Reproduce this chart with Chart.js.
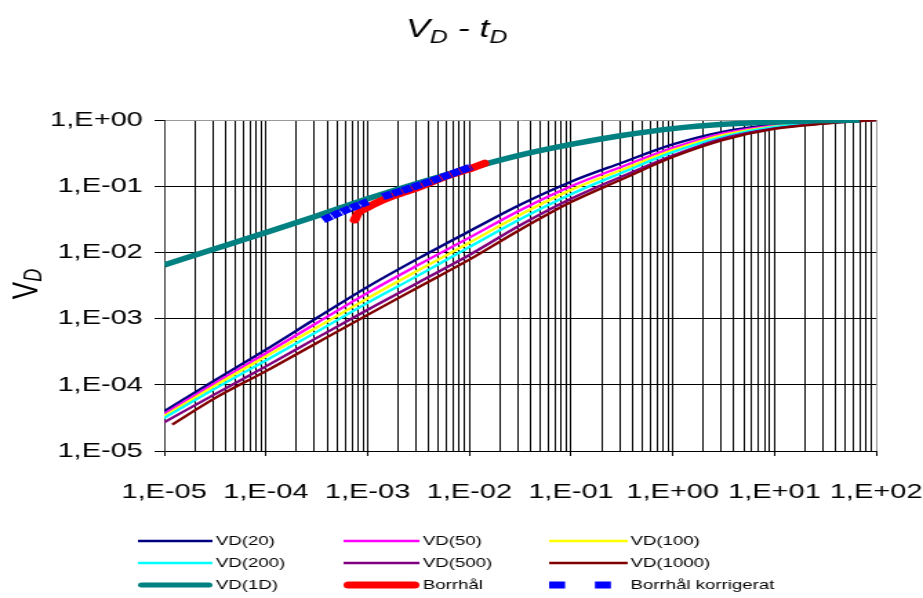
<!DOCTYPE html>
<html>
<head>
<meta charset="utf-8">
<script src="https://cdn.jsdelivr.net/npm/chart.js@4.4.1/dist/chart.umd.min.js"></script>
<style>
  html, body { margin: 0; padding: 0; background: #fff; overflow: hidden; }
</style>
</head>
<body>
<canvas id="c" width="669" height="598" style="display:block;width:923px;height:598px"></canvas>
<script>
// Dimensionless time t_D for the VD(n) family
const tD = [1e-5, 3.16e-5, 1e-4, 3.16e-4, 1e-3, 3.16e-3, 1e-2, 3.16e-2, 0.1, 0.316, 1, 3.16, 10, 31.6, 100];
const vd20  = [3.98e-5, 1.17e-4, 3.39e-4, 1.02e-3, 3.02e-3, 8.13e-3, 0.0209, 0.0525, 0.117, 0.226, 0.427, 0.668, 0.851, 0.944, 1.0];
const vd50  = [3.62e-5, 1.06e-4, 3.00e-4, 8.59e-4, 2.45e-3, 6.49e-3, 0.0167, 0.0434, 0.100, 0.197, 0.380, 0.630, 0.822, 0.931, 1.0];
const vd100 = [3.38e-5, 9.70e-5, 2.69e-4, 7.35e-4, 2.02e-3, 5.36e-3, 0.0140, 0.0371, 0.0880, 0.177, 0.350, 0.596, 0.802, 0.920, 1.0];
const vd200 = [3.15e-5, 8.75e-5, 2.33e-4, 6.30e-4, 1.73e-3, 4.50e-3, 0.0120, 0.0317, 0.0756, 0.160, 0.327, 0.561, 0.785, 0.912, 1.0];
const vd500 = [2.72e-5, 7.23e-5, 1.90e-4, 5.11e-4, 1.36e-3, 3.52e-3, 9.15e-3, 0.0257, 0.0645, 0.140, 0.291, 0.530, 0.748, 0.895, 1.0];
// VD(1000) starts slightly later
const tD1000 = [1.2e-5, 3.16e-5, 1e-4, 3.16e-4, 1e-3, 3.16e-3, 1e-2, 3.16e-2, 0.1, 0.316, 1, 3.16, 10, 31.6, 100];
const vd1000 = [2.50e-5, 6.28e-5, 1.61e-4, 4.29e-4, 1.14e-3, 2.98e-3, 7.77e-3, 0.0220, 0.0575, 0.127, 0.276, 0.501, 0.733, 0.881, 1.0];
// One-dimensional solution
const tD1D = [1e-5, 3.16e-5, 1e-4, 3.16e-4, 1e-3, 3.16e-3, 1e-2, 3.16e-2, 0.1, 0.316, 1, 3.16, 10, 31.6, 69];
const vd1D = [0.00646, 0.01135, 0.0200, 0.0355, 0.0646, 0.112, 0.186, 0.295, 0.427, 0.582, 0.741, 0.861, 0.933, 0.982, 1.0];
// Borehole measurement
const tBorr = [7.46e-4, 8.05e-4, 9.77e-4, 1.41e-3, 2.09e-3, 3.02e-3, 4.37e-3, 6.46e-3, 9.33e-3, 1.41e-2];
const vBorr = [0.0309, 0.0389, 0.0468, 0.0617, 0.0776, 0.0933, 0.1175, 0.148, 0.176, 0.222];
// Corrected borehole measurement (null = break in the line)
const tKorr = [3.65e-4, 6.17e-4, 1.01e-3, 1.2e-3, 1.41e-3, 3.80e-3, 1.05e-2];
const vKorr = [0.0309, 0.0437, 0.0583, null, 0.0693, 0.113, 0.197];

const xTickLabels = ['1,E-05', '1,E-04', '1,E-03', '1,E-02', '1,E-01', '1,E+00', '1,E+01', '1,E+02'];
const yTickLabels = ['1,E-05', '1,E-04', '1,E-03', '1,E-02', '1,E-01', '1,E+00'];

const FONT = '"Liberation Sans", Arial, Helvetica, sans-serif';

const pts = (xs, ys) => xs.map((x, i) => ({ x: x, y: ys[i] }));

// gridline positions: 1..9 in every decade
const xDecades = [1e-5, 1e-4, 1e-3, 1e-2, 1e-1, 1, 10];
const xGrid = [];
xDecades.forEach(d => { for (let m = 1; m <= 9; m++) xGrid.push(+(m * d).toPrecision(6)); });
xGrid.push(100);
const yGrid = [1e-5, 1e-4, 1e-3, 1e-2, 1e-1, 1];

function decadeIndex(v, minExp) {
  const e = Math.round(Math.log10(v));
  if (Math.abs(v / Math.pow(10, e) - 1) > 1e-6) return -1;
  return e - minExp;
}

const thin = (label, color, xs, ys, order) => ({
  label, data: pts(xs, ys), borderColor: color, backgroundColor: color,
  borderWidth: 2.4, pointRadius: 0, cubicInterpolationMode: 'monotone', order,
  legendWidth: 2.5
});

const datasets = [
  thin('VD(20)', '#000080', tD, vd20, 9),
  thin('VD(50)', '#FF00FF', tD, vd50, 8),
  thin('VD(100)', '#FFFF00', tD, vd100, 7),
  thin('VD(200)', '#00FFFF', tD, vd200, 6),
  thin('VD(500)', '#800080', tD, vd500, 5),
  thin('VD(1000)', '#800000', tD1000, vd1000, 4),
  { label: 'VD(1D)', data: pts(tD1D, vd1D), borderColor: '#008080', backgroundColor: '#008080',
    borderWidth: 5.5, pointRadius: 0, cubicInterpolationMode: 'monotone', order: 3,
    legendWidth: 5, legendCap: 'round' },
  { label: 'Borrhål', data: pts(tBorr, vBorr), borderColor: '#FF0000', backgroundColor: '#FF0000',
    borderWidth: 7, pointRadius: 0, cubicInterpolationMode: 'monotone', borderCapStyle: 'round', order: 2,
    legendWidth: 7, legendCap: 'round' },
  { label: 'Borrhål korrigerat', data: pts(tKorr, vKorr), borderColor: '#0000FF', backgroundColor: '#0000FF',
    borderWidth: 7, pointRadius: 0, cubicInterpolationMode: 'monotone', borderDash: [7, 0.8], spanGaps: false, order: 1,
    legendWidth: 7, legendDash: [11.6, 21.6] }
];

function drawPieces(ctx, pieces, x, y) {
  let cx = x;
  for (const p of pieces) {
    ctx.font = p.font;
    ctx.fillText(p.text, cx, y + p.dy);
    cx += ctx.measureText(p.text).width;
  }
}
function piecesWidth(ctx, pieces) {
  let w = 0;
  for (const p of pieces) { ctx.font = p.font; w += ctx.measureText(p.text).width; }
  return w;
}

const decor = {
  id: 'decor',
  afterDraw(chart) {
    const ctx = chart.ctx;
    ctx.save();
    ctx.fillStyle = '#000';
    ctx.textBaseline = 'alphabetic';
    ctx.textAlign = 'left';

    // chart title  V_D - t_D
    const title = [
      { text: 'V', font: `italic 26px ${FONT}`, dy: 0 },
      { text: 'D', font: `italic 18px ${FONT}`, dy: 6 },
      { text: ' - t', font: `italic 26px ${FONT}`, dy: 0 },
      { text: 'D', font: `italic 18px ${FONT}`, dy: 6 }
    ];
    const tw = piecesWidth(ctx, title);
    drawPieces(ctx, title, 331 - tw / 2, 37);

    // vertical axis title V_D
    const ytitle = [
      { text: 'V', font: `26px ${FONT}`, dy: 0 },
      { text: 'D', font: `italic 18px ${FONT}`, dy: 3 }
    ];
    const yw = piecesWidth(ctx, ytitle);
    ctx.save();
    ctx.translate(27, 284);
    ctx.rotate(-Math.PI / 2);
    drawPieces(ctx, ytitle, -yw / 2, 0);
    ctx.restore();

    // legend: three columns, three rows
    const rows = [541, 563, 585];
    const lineX = [[100, 154], [249, 304], [398, 455]];
    const textX = [156.5, 306.5, 457];
    ctx.font = `13.5px ${FONT}`;
    ctx.textBaseline = 'middle';
    chart.data.datasets.forEach((ds, i) => {
      const r = Math.floor(i / 3), c = i % 3;
      const y = rows[r];
      let [x0, x1] = lineX[c];
      ctx.save();
      ctx.strokeStyle = ds.borderColor;
      ctx.lineWidth = ds.legendWidth;
      ctx.lineCap = ds.legendCap || 'butt';
      if (ds.legendCap === 'round') { x0 += ds.legendWidth / 2; x1 -= ds.legendWidth / 2; }
      ctx.setLineDash(ds.legendDash || []);
      ctx.beginPath();
      ctx.moveTo(x0, y);
      ctx.lineTo(x1, y);
      ctx.stroke();
      ctx.restore();
      ctx.fillStyle = '#000';
      ctx.fillText(ds.label, textX[c], y + 0.5);
    });
    ctx.restore();
  }
};

new Chart(document.getElementById('c'), {
  type: 'line',
  data: { datasets },
  options: {
    responsive: false,
    animation: false,
    devicePixelRatio: 1,
    layout: { padding: { top: 120, right: 34, left: 0, bottom: 0 } },
    plugins: {
      legend: { display: false },
      title: { display: false },
      tooltip: { enabled: false }
    },
    elements: { point: { radius: 0 }, line: { borderJoinStyle: 'round' } },
    scales: {
      x: {
        type: 'logarithmic',
        min: 1e-5,
        max: 100,
        afterBuildTicks: s => { s.ticks = xGrid.map(v => ({ value: v })); },
        afterFit: s => { s.height = 147; s.paddingLeft = 0; s.paddingRight = 0; },
        ticks: {
          autoSkip: false, maxRotation: 0, minRotation: 0, padding: 24,
          color: '#000',
          font: { family: FONT, size: 21 },
          callback: v => { const k = decadeIndex(v, -5); return k >= 0 ? xTickLabels[k] : ''; }
        },
        grid: {
          color: c => (c.tick && c.tick.value === 100 ? '#999999' : '#000000'),
          lineWidth: 1,
          tickLength: 5,
          tickColor: c => (c.tick && decadeIndex(c.tick.value, -5) >= 0 ? '#000000' : 'rgba(0,0,0,0)')
        },
        border: { color: '#000', width: 1 }
      },
      y: {
        type: 'logarithmic',
        min: 1e-5,
        max: 1,
        afterBuildTicks: s => { s.ticks = yGrid.map(v => ({ value: v })); },
        afterFit: s => { s.width = 119; s.paddingTop = 0; s.paddingBottom = 0; },
        ticks: {
          autoSkip: false, padding: 8.5,
          color: '#000',
          font: { family: FONT, size: 21 },
          callback: v => { const k = decadeIndex(v, -5); return k >= 0 ? yTickLabels[k] : ''; }
        },
        grid: {
          color: c => (c.tick && c.tick.value === 1 ? '#999999' : '#000000'),
          lineWidth: 1,
          tickLength: 7,
          tickColor: '#000'
        },
        border: { color: '#333', width: 1 }
      }
    }
  },
  plugins: [decor]
});
</script>
</body>
</html>
